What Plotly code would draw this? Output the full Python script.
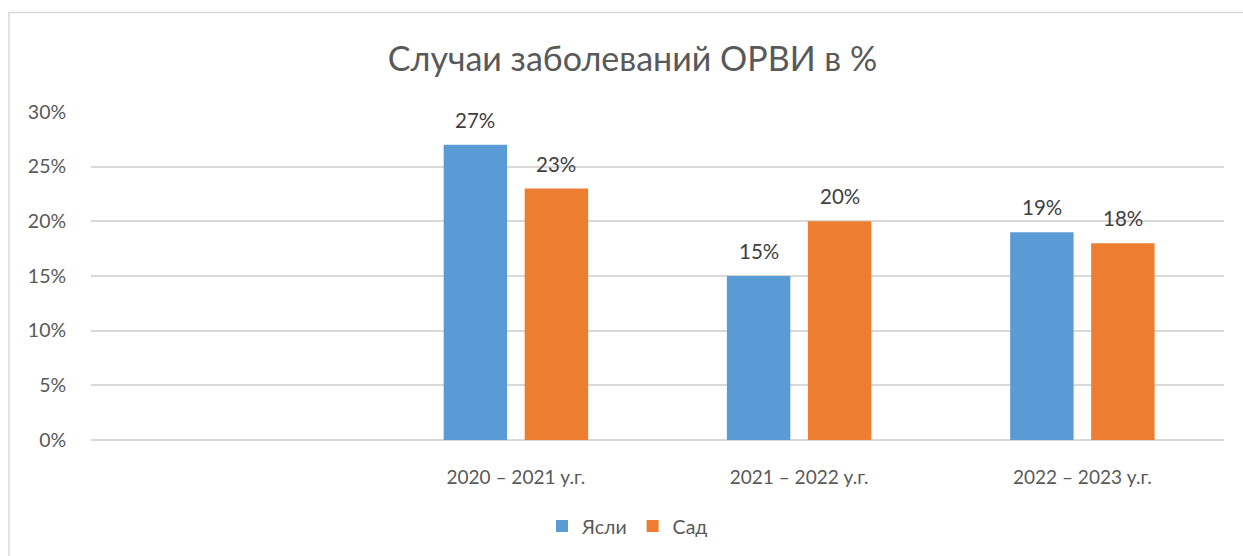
import plotly.graph_objects as go

categories = [" ", "2020 – 2021 у.г.", "2021 – 2022 у.г.", "2022 – 2023 у.г."]
yasli = [None, 0.27, 0.15, 0.19]
sad = [None, 0.23, 0.20, 0.18]
series_names = ["Ясли", "Сад"]
tick_vals = [0, 0.05, 0.10, 0.15, 0.20, 0.25, 0.30]
tick_text = ["0%", "5%", "10%", "15%", "20%", "25%", "30%"]
title_text = "Случаи заболеваний ОРВИ в %"

FONT = "Lato"
FS = 19.5
W, H = 1243, 556
L, R, T, B = 91, 19, 112, 114.5
pw, ph = W - L - R, H - T - B

fig = go.Figure()
fig.add_trace(go.Bar(x=categories, y=yasli, name=series_names[0],
                     marker=dict(color="#5B9BD5", line=dict(width=0))))
fig.add_trace(go.Bar(x=categories, y=sad, name=series_names[1],
                     marker=dict(color="#ED7D31", line=dict(width=0))))

slot = 81
for vals, shift in ((yasli, -slot / 2), (sad, slot / 2)):
    for c, v in zip(categories, vals):
        if v is None:
            continue
        fig.add_annotation(x=c, y=v, text=f"{v*100:.0f}%", showarrow=False,
                           xshift=shift, yshift=25, yanchor="middle",
                           font=dict(family=FONT, size=20.5, color="#404040"))

# outer frame
fig.add_shape(type="rect", xref="paper", yref="paper",
              x0=(9 - L) / pw, x1=(W + 20 - L) / pw,
              y0=-(H + 20 - T - ph) / ph, y1=(H - B - 12) / ph,
              line=dict(color="#D9D9D9", width=1.5), fillcolor="rgba(0,0,0,0)", layer="below")

fig.update_layout(
    width=W, height=H,
    margin=dict(l=L, r=R, t=T, b=B),
    paper_bgcolor="white", plot_bgcolor="white",
    barmode="group", bargap=0.428, bargroupgap=0.217,
    title=dict(text=title_text, x=632.5 / W, xanchor="center", y=1 - 59 / H, yanchor="middle",
               font=dict(family=FONT, size=34, color="#595959")),
    legend=dict(orientation="h", x=0.5 - 30 / pw, xanchor="center", y=(H - B - 527) / ph, yanchor="middle",
                font=dict(family=FONT, size=FS, color="#595959"), itemclick=False,
                itemwidth=30, tracegroupgap=0),
    showlegend=True,
)
fig.update_xaxes(type="category", showgrid=False, showline=False, zeroline=False,
                 ticks="outside", ticklen=20, tickcolor="rgba(0,0,0,0)",
                 tickfont=dict(family=FONT, size=19, color="#595959"), fixedrange=True)
fig.update_yaxes(range=[0, 0.30], tickvals=tick_vals, ticktext=tick_text,
                 showgrid=True, gridcolor="#D9D9D9", gridwidth=1.5,
                 zeroline=True, zerolinecolor="#D9D9D9", zerolinewidth=1.5,
                 showline=False, ticks="outside", ticklen=20, tickcolor="rgba(0,0,0,0)",
                 tickfont=dict(family=FONT, size=FS, color="#595959"), fixedrange=True)

fig.write_html("out.html")
